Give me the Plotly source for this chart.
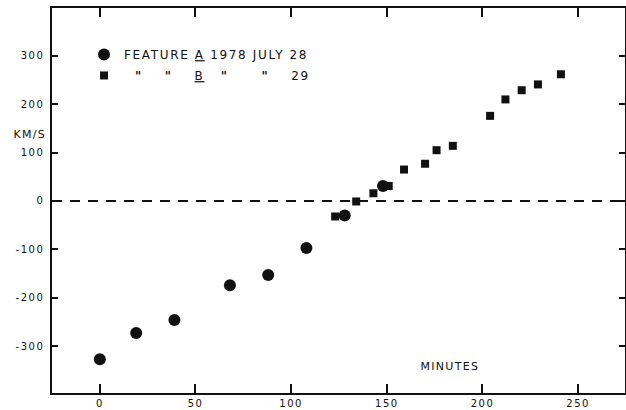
import plotly.graph_objects as go

# Feature A (1978 July 28) - circles
a_minutes = [0, 19, 39, 68, 88, 108, 128, 148]
a_kms = [-327, -273, -246, -174, -153, -97, -30, 31]

# Feature B (1978 July 29) - squares
b_minutes = [123, 134, 143, 151, 159, 170, 176, 184.5, 204, 212, 220.5, 229, 241]
b_kms = [-32, -1, 16, 31, 65, 77, 105, 114, 176, 210, 229, 241, 262]

x_ticks = [0, 50, 100, 150, 200, 250]
y_ticks = [300, 200, 100, 0, -100, -200, -300]
y_ticktext = ["300", "200", "100", "0", "-100", "-200", "-300"]

NB = "\u00a0"
PAD = NB * 12
Q = '<b>"</b>'
name_a = "FEATURE <u>A</u> 1978 JULY 28" + PAD
name_b = (NB * 2 + Q + NB * 4 + Q + NB * 4 + "<u>B</u>" + NB * 3 + Q
          + NB * 6 + Q + NB * 4 + "29" + PAD)

FONT = "DejaVu Sans"
INK = "#111111"

fig = go.Figure()
fig.add_trace(go.Scatter(x=a_minutes, y=a_kms, mode="markers", name=name_a,
                         legendgroup="a",
                         marker=dict(symbol="circle", size=12, color=INK)))
fig.add_trace(go.Scatter(x=b_minutes, y=b_kms, mode="markers", name=name_b,
                         legendgroup="b",
                         marker=dict(symbol="square", size=8, color=INK)))

fig.add_hline(y=0, line=dict(color=INK, width=2, dash="10px,8px"))

fig.update_layout(
    width=626, height=410,
    margin=dict(l=52, r=1, t=8, b=17),
    plot_bgcolor="white", paper_bgcolor="white",
    font=dict(family=FONT, size=11, color=INK),
    showlegend=True,
    legend=dict(x=0.0559, y=0.917, xanchor="left", yanchor="top",
                bgcolor="rgba(0,0,0,0)", font=dict(size=12, family=FONT, color=INK),
                tracegroupgap=2, itemsizing="trace"),
    annotations=[
        dict(text="KM/S", x=0, xref="paper", xanchor="right", xshift=-7,
             y=137, yref="y", yanchor="middle", showarrow=False,
             font=dict(size=11, family=FONT, color=INK)),
        dict(text="MINUTES", x=183, xref="x", xanchor="center",
             y=-343, yref="y", yanchor="middle", showarrow=False,
             font=dict(size=11, family=FONT, color=INK)),
    ],
)

fig.update_xaxes(range=[-25, 274.5], tickvals=x_ticks, ticks="inside", ticklen=9,
                 tickwidth=1.5, tickcolor=INK, showline=True, linecolor=INK, linewidth=1.5,
                 mirror="ticks", showgrid=False, zeroline=False, automargin=False,
                 ticklabelstandoff=0,
                 tickfont=dict(size=10, family=FONT, color=INK))
fig.update_yaxes(range=[-397, 399], tickvals=y_ticks, ticktext=y_ticktext, ticks="inside",
                 ticklen=6, tickwidth=1.5, tickcolor=INK, showline=True, linecolor=INK,
                 linewidth=1.5, mirror="ticks", showgrid=False, zeroline=False,
                 automargin=False, ticklabelstandoff=4,
                 tickfont=dict(size=10, family=FONT, color=INK))

post_js = """
document.body.style.margin = '0';
document.body.style.overflow = 'hidden';
var gd = document.getElementById('{plot_id}');
function spacing(){
  gd.querySelectorAll('.legendtext').forEach(function(e){ e.style.letterSpacing='1.65px'; });
  gd.querySelectorAll('.annotation-text').forEach(function(e){ e.style.letterSpacing='1.3px'; });
  gd.querySelectorAll('.xtick text, .ytick text').forEach(function(e){ e.style.letterSpacing='1.5px'; });
}
spacing();
gd.on('plotly_afterplot', spacing);
"""

fig.write_html("out.html", post_script=post_js, config={"displayModeBar": False})
